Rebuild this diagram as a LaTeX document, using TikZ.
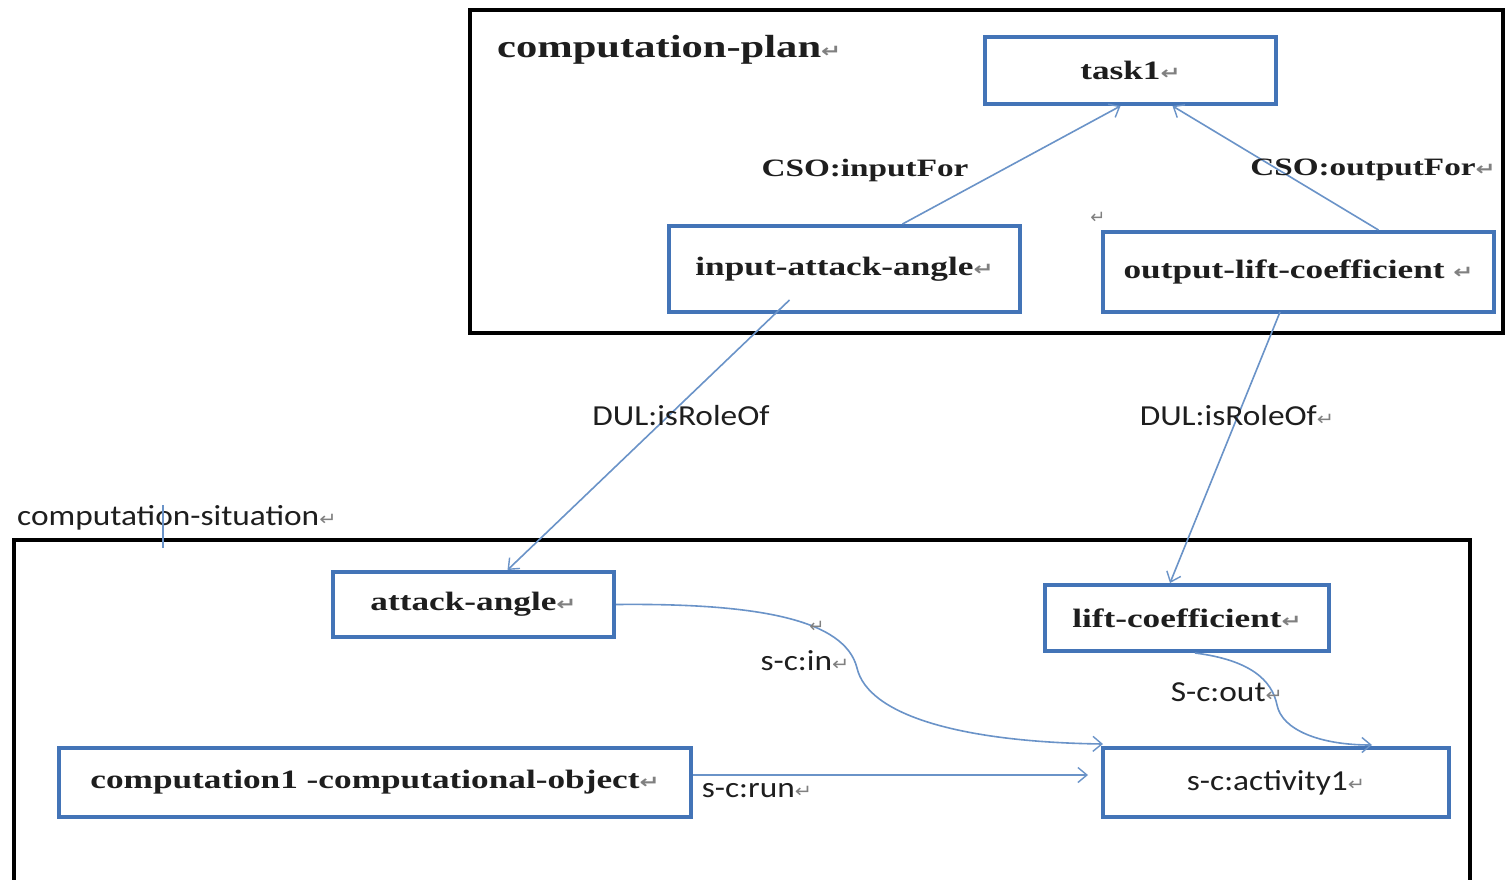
\documentclass[tikz,border=0pt]{standalone}
\usepackage{fontspec}
\setmainfont{Liberation Serif}
\setsansfont{Carlito}
\newfontfamily\dvfont{DejaVu Sans}
\usetikzlibrary{arrows.meta}
\definecolor{boxblue}{HTML}{4374B7}
\definecolor{linkblue}{HTML}{6A93C8}
\definecolor{txt}{HTML}{1E1E1E}
\newcommand{\parmark}{{\dvfont\fontsize{18}{18}\selectfont\textcolor{gray}{↵}}}
\newcommand{\wide}[1]{\scalebox{1.15}[1]{#1}}
\newcommand{\swide}[1]{\scalebox{1.33}[1]{#1}}
\tikzset{
  frame/.style={draw=black, line width=4.5pt},
  box/.style={draw=boxblue, line width=4pt, rectangle, inner sep=0pt, text=txt,
    font=\fontsize{26.5}{26.5}\selectfont\bfseries},
  sbox/.style={box, font=\sffamily\fontsize{29}{29}\selectfont},
  lab/.style={text=txt, inner sep=0pt, font=\fontsize{25}{25}\selectfont\bfseries},
  slab/.style={text=txt, inner sep=0pt, font=\sffamily\fontsize{29}{29}\selectfont},
  conn/.style={draw=linkblue, line width=1.6pt,
    -{Straight Barb[length=9pt, width=15pt, line width=1.4pt]}},
  pmark/.style={inner sep=0pt}
}
\begin{document}
\begin{tikzpicture}[x=1pt,y=-1pt]
\useasboundingbox (0,0) rectangle (1505,879);
\clip (0,0) rectangle (1505,879);
\fill[white] (0,0) rectangle (1505,879);

% frames
\draw[frame] (470,10) rectangle (1503,333);
\draw[frame] (14,900) -- (14,540) -- (1470,540) -- (1470,900);

% frame labels
\node[lab, anchor=west, font=\fontsize{32}{32}\selectfont\bfseries] (cplan) at (497,50) {\swide{computation-plan\parmark}};
\node[slab, anchor=west] (csit) at (17,518) {\wide{computation-situation\parmark}};

% nodes
\node[box, minimum width=291pt, minimum height=67pt] (task1) at (1130.5,70.5) {\swide{task1\parmark}};
\node[box, minimum width=351pt, minimum height=86pt] (ia) at (844.5,269) {\swide{input-attack-angle\parmark}};
\node[box, minimum width=391pt, minimum height=80pt] (olc) at (1298.5,272) {\swide{output-lift-coefficient\ \parmark}};
\node[box, minimum width=281pt, minimum height=65pt] (aa) at (473.5,604.5) {\swide{attack-angle\parmark}};
\node[box, minimum width=284pt, minimum height=66pt] (lc) at (1187,618) {\swide{lift-coefficient\parmark}};
\node[box, minimum width=632pt, minimum height=69pt] (co) at (375,782.5) {\swide{computation1 -computational-object\parmark}};
\node[sbox, minimum width=346pt, minimum height=69pt] (act) at (1276,782.5) {\wide{s-c:activity1\parmark}};

% connectors
\draw[conn] ([xshift=58pt]ia.north) -- ([xshift=-10pt]task1.south);
\draw[conn] ([xshift=80pt]olc.north) -- ([xshift=42pt]task1.south);
\draw[conn] ([xshift=-55pt,yshift=14pt]ia.south) -- ([xshift=34pt]aa.north);
\draw[conn] ([xshift=-18.5pt,yshift=2pt]olc.south) -- ([xshift=-17pt]lc.north);
\draw[conn] (aa.east) .. controls (760,603) and (845,620) .. (857,668)
  .. controls (868,715) and (960,742) .. ([xshift=2pt,yshift=2pt]act.north west);
\draw[conn] ([xshift=8pt]lc.south) .. controls (1250,660) and (1272,680) .. (1277,705)
  .. controls (1282,730) and (1320,745) .. ([xshift=96pt,yshift=1pt]act.north);
\draw[conn] ([yshift=7.5pt]co.east) -- ([xshift=-13pt,yshift=7.5pt]act.west);

% connector labels
\node[lab] (l1) at (865,170) {\swide{CSO:inputFor}};
\node[lab] (l2) at (1373,170) {\swide{CSO:outputFor\parmark}};
\node[slab] (l3) at (681,416) {\wide{DUL:isRoleOf}};
\node[slab] (l4) at (1237,416) {\wide{DUL:isRoleOf\parmark}};
\node[slab] (l5) at (805,661) {\wide{s-c:in\parmark}};
\node[slab] (l6) at (1227,692) {\wide{S-c:out\parmark}};
\node[slab] (l7) at (757,791) {\wide{s-c:run\parmark}};

% stray paragraph marks
\node[pmark] (m1) at (1098,218) {\parmark};
\node[pmark] (m2) at (817,627) {\parmark};
\draw[linkblue, line width=1.2pt] (163,505) -- (163,548);
\end{tikzpicture}
\end{document}
